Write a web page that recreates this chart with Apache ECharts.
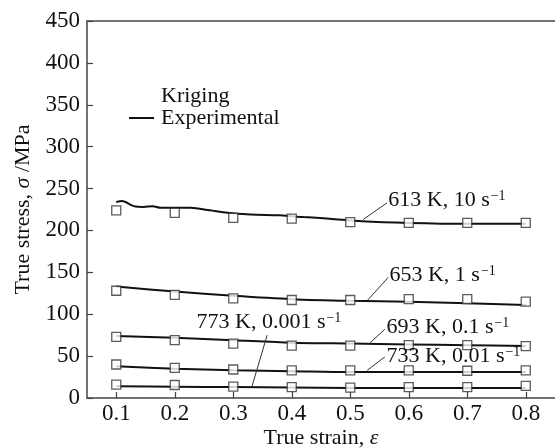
<!DOCTYPE html>
<html>
<head>
<meta charset="utf-8">
<script src="https://cdn.jsdelivr.net/npm/echarts@6/dist/echarts.min.js"></script>
<style>
  html, body { margin: 0; padding: 0; background: #fff; }
  #chart { width: 555px; height: 448px; }
</style>
</head>
<body>
<div id="chart"></div>
<script>
// strain points where the Kriging squares sit
const strainPts = [0.1, 0.2, 0.3, 0.4, 0.5, 0.6, 0.7, 0.8];
const xTicks = [0.1, 0.2, 0.3, 0.4, 0.5, 0.6, 0.7, 0.8];

// Kriging (squares)
const krig613 = [224, 221, 215, 214, 210, 209, 209, 209];
const krig653 = [128, 123, 119, 117, 117, 118, 118, 115];
const krig693 = [73, 69, 65, 62.5, 62.5, 63, 63, 62];
const krig733 = [40, 36, 34, 33, 33, 33, 32.5, 33];
const krig773 = [16, 15.5, 13.5, 13, 12.5, 13, 13, 14.5];

// Experimental (lines)
const expStrain613 = [0.1, 0.11, 0.13, 0.147, 0.162, 0.176, 0.2, 0.227, 0.26, 0.29, 0.33, 0.38, 0.42, 0.465, 0.52, 0.6, 0.7, 0.8];
const exp613 = [234, 235, 229, 228, 229, 227, 227, 227, 224, 221, 219, 218, 216, 214, 211, 209, 208, 208];
const exp653 = [133, 127, 122, 118, 116, 115, 113, 111];
const exp693 = [74, 72, 69, 66, 65, 64, 63, 62];
const exp733 = [38, 35, 33, 32, 31, 31, 31, 31];
const exp773 = [14, 13.5, 13, 12.5, 12, 12, 12, 12];

const condLabels = ['613 K, 10 s', '653 K, 1 s', '693 K, 0.1 s', '733 K, 0.01 s', '773 K, 0.001 s'];

const FONT = '"Liberation Serif", "DejaVu Serif", serif';
const INK = '#111';

const zip = (xs, ys) => xs.map((x, i) => [x, ys[i]]);

// leader line (from, to) and text anchor, in data coords
const notes = [
    { from: [0.522, 213], to: [0.563, 233], text: [0.565, 236], align: 'left' },
    { from: [0.530, 117], to: [0.565, 144], text: [0.567, 147], align: 'left' },
    { from: [0.534, 66], to: [0.559, 82], text: [0.562, 84], align: 'left' },
    { from: [0.529, 33], to: [0.559, 49], text: [0.562, 50], align: 'left' },
    { from: [0.332, 14], to: [0.358, 75], text: [0.361, 90], align: 'center' }
];

const expSets = [zip(expStrain613, exp613), zip(strainPts, exp653), zip(strainPts, exp693), zip(strainPts, exp733), zip(strainPts, exp773)];
const krigSets = [krig613, krig653, krig693, krig733, krig773].map(v => zip(strainPts, v));

const series = [];
expSets.forEach((d, i) => {
    const n = notes[i];
    series.push({
        name: 'Experimental',
        type: 'line',
        data: d,
        smooth: 0.3,
        showSymbol: false,
        symbol: 'none',
        lineStyle: { color: INK, width: 2 },
        itemStyle: { color: INK },
        z: 2,
        markLine: {
            silent: true,
            symbol: 'none',
            animation: false,
            lineStyle: { color: '#333', width: 1, type: 'solid' },
            label: { show: false },
            data: [[{ coord: n.from }, { coord: n.to }]]
        },
        markPoint: {
            silent: true,
            animation: false,
            symbol: 'circle',
            symbolSize: 0,
            label: {
                show: true,
                position: [0, 0],
                align: n.align,
                verticalAlign: 'middle',
                formatter: '{a|' + condLabels[i] + '}{b|\u22121}',
                rich: {
                    a: { fontFamily: FONT, fontSize: 22, color: INK, lineHeight: 22 },
                    b: { fontFamily: FONT, fontSize: 14, color: INK, lineHeight: 14, verticalAlign: 'top', padding: [0, 0, 10, 1] }
                }
            },
            data: [{ coord: n.text }]
        }
    });
});
krigSets.forEach(d => {
    series.push({
        name: 'Kriging',
        type: 'scatter',
        data: d,
        symbol: 'rect',
        symbolSize: 9,
        itemStyle: { color: '#fff', borderColor: '#333', borderWidth: 1.3 },
        z: 3
    });
});

const chart = echarts.init(document.getElementById('chart'));
chart.setOption({
    animation: false,
    backgroundColor: '#fff',
    grid: { left: 87, right: 0, top: 21, bottom: 50, containLabel: false, outerBoundsMode: 'none' },
    legend: {
        orient: 'vertical',
        left: 123,
        top: 80,
        itemGap: 0,
        itemWidth: 25,
        itemHeight: 2,
        selectedMode: false,
        textStyle: { fontFamily: FONT, fontSize: 22, color: INK, lineHeight: 19, padding: [0, 0, 0, 2] },
        data: [
            { name: 'Kriging', icon: 'rect', itemStyle: { opacity: 0 } },
            { name: 'Experimental', icon: 'rect', itemStyle: { color: INK, borderWidth: 0 } }
        ]
    },
    xAxis: [{
        type: 'value',
        min: 0.05,
        max: 0.85,
        name: 'True strain, {i|ε}',
        nameLocation: 'middle',
        nameGap: 29,
        nameMoveOverlap: false,
        nameTextStyle: {
            fontFamily: FONT, fontSize: 22, color: INK,
            rich: { i: { fontFamily: FONT, fontSize: 22, fontStyle: 'italic', color: INK } }
        },
        axisLine: { show: true, lineStyle: { color: '#444', width: 1.5 } },
        axisTick: { show: true, inside: true, length: 6, customValues: xTicks, lineStyle: { color: '#444', width: 1.2 } },
        axisLabel: {
            customValues: xTicks, margin: 4,
            fontFamily: FONT, fontSize: 23, color: INK,
            formatter: v => v.toFixed(1)
        },
        splitLine: { show: false }
    }, {
        type: 'value',
        position: 'top',
        min: 0.05,
        max: 0.85,
        axisLine: { show: true, lineStyle: { color: '#444', width: 1.5 } },
        axisTick: { show: false },
        axisLabel: { show: false },
        splitLine: { show: false }
    }],
    yAxis: {
        type: 'value',
        min: 0,
        max: 450,
        interval: 50,
        name: 'True stress, {i|σ} /MPa',
        nameLocation: 'middle',
        nameGap: 53,
        nameMoveOverlap: false,
        nameTextStyle: {
            fontFamily: FONT, fontSize: 22, color: INK,
            rich: { i: { fontFamily: FONT, fontSize: 22, fontStyle: 'italic', color: INK } }
        },
        axisLine: { show: true, lineStyle: { color: '#444', width: 1.5 } },
        axisTick: { show: true, inside: true, length: 6, lineStyle: { color: '#444', width: 1.2 } },
        axisLabel: { margin: 7, fontFamily: FONT, fontSize: 23, color: INK },
        splitLine: { show: false }
    },
    series: series
});
</script>
</body>
</html>
